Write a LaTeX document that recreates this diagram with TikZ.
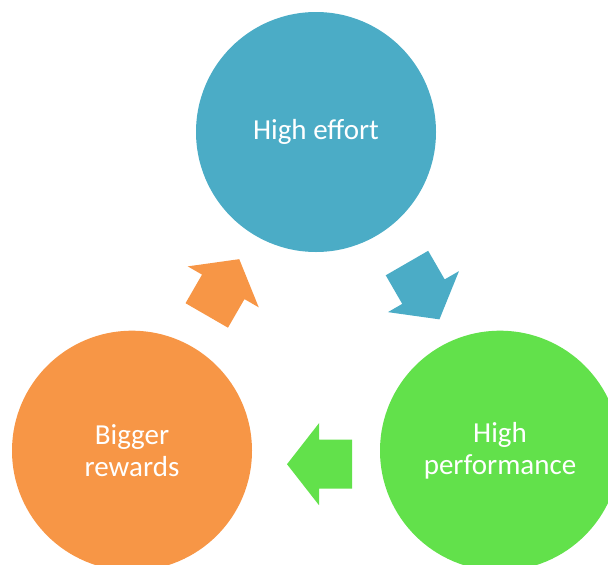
\documentclass[tikz,border=0pt]{standalone}
\usepackage{fontspec}
\setmainfont{Carlito}
\definecolor{effortblue}{HTML}{4BACC6}
\definecolor{perfgreen}{HTML}{62E14B}
\definecolor{rewardorange}{HTML}{F79646}
\begin{document}
\begin{tikzpicture}[x=1pt,y=-1pt,
  stage/.style={circle,minimum size=240pt,inner sep=0pt,text=white,
    align=center,font=\fontsize{29}{32}\selectfont},
  blockarrow/.style={fill=#1}]
\useasboundingbox (0,0) rectangle (608,565);
\clip (0,0) rectangle (608,565);

% the three stages of the cycle
\node[stage,fill=effortblue]   (effort) at (316,132)   {High effort};
\node[stage,fill=perfgreen]    (perf)   at (500,450.7) {High\\performance};
\node[stage,fill=rewardorange] (reward) at (132,450.7) {Bigger\\rewards};

% block arrows between the stages (local shape points along +x)
\coordinate (a1) at (423.2,291.2);
\coordinate (a2) at (319.5,464.2);
\coordinate (a3) at (223,287.3);
\def\arrowshape{(-32.5,-24.5) -- (0.5,-24.5) -- (0.5,-41) -- (32.5,0)
  -- (0.5,41) -- (0.5,24.5) -- (-32.5,24.5) -- cycle}
\fill[effortblue,shift={(a1)},rotate=-60] \arrowshape;
\fill[perfgreen,shift={(a2)},rotate=180] \arrowshape;
\fill[rewardorange,shift={(a3)},rotate=60] \arrowshape;
\end{tikzpicture}
\end{document}
